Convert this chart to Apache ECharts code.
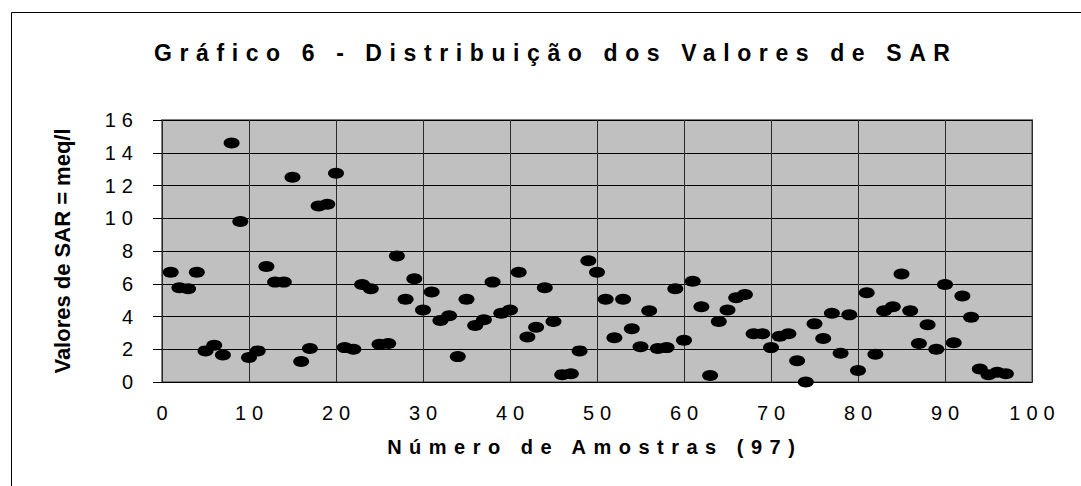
<!DOCTYPE html>
<html>
<head>
<meta charset="utf-8">
<script src="https://cdn.jsdelivr.net/npm/echarts@6/dist/echarts.min.js"></script>
<style>
  html, body { margin: 0; padding: 0; background: #ffffff; }
  #chart { width: 1081px; height: 486px; }
</style>
</head>
<body>
<div id="chart"></div>
<script>
// ---- Data ----
const chartTitle = 'Gráfico 6 - Distribuição dos Valores de SAR';
const xAxisName = 'Número de Amostras (97)';
const yAxisName = 'Valores de SAR = meq/l';
const xTicks = [0, 10, 20, 30, 40, 50, 60, 70, 80, 90, 100];
const yTicks = [0, 2, 4, 6, 8, 10, 12, 14, 16];
// SAR value of samples 1..97 (in order)
const sarValues = [
  6.7, 5.75, 5.7, 6.7, 1.9, 2.25, 1.65, 14.6, 9.8, 1.5,
  1.9, 7.05, 6.1, 6.1, 12.5, 1.25, 2.05, 10.75, 10.85, 12.75,
  2.1, 2.0, 5.95, 5.7, 2.3, 2.35, 7.7, 5.05, 6.3, 4.4,
  5.5, 3.75, 4.05, 1.55, 5.05, 3.45, 3.8, 6.1, 4.2, 4.4,
  6.7, 2.75, 3.35, 5.75, 3.7, 0.45, 0.5, 1.9, 7.4, 6.7,
  5.05, 2.7, 5.05, 3.25, 2.15, 4.35, 2.05, 2.1, 5.7, 2.55,
  6.15, 4.6, 0.4, 3.7, 4.4, 5.15, 5.35, 2.95, 2.95, 2.1,
  2.8, 2.95, 1.3, 0.0, 3.55, 2.65, 4.2, 1.75, 4.1, 0.7,
  5.45, 1.7, 4.35, 4.6, 6.6, 4.35, 2.35, 3.5, 2.0, 5.95,
  2.4, 5.25, 3.95, 0.8, 0.45, 0.6, 0.5
];

const points = sarValues.map((v, i) => [i + 1, v]);

const FONT = "'Liberation Sans', Arial, sans-serif";
// letter spacing (px) applied to the rendered texts
const spacing = {};
spacing[chartTitle] = 7.6;
spacing[xAxisName] = 7.5;
xTicks.forEach(t => { spacing[String(t)] = 6; });
yTicks.forEach(t => { spacing[String(t)] = 6; });

const chart = echarts.init(document.getElementById('chart'), null, { renderer: 'svg' });

const option = {
  animation: false,
  backgroundColor: '#ffffff',
  graphic: [{
    type: 'rect',
    shape: { x: 11.5, y: 12.5, width: 1200, height: 600 },
    style: { fill: 'none', stroke: '#000000', lineWidth: 1 },
    silent: true,
    z: -1
  }],
  title: {
    text: chartTitle,
    left: 547,
    top: 36,
    textAlign: 'center',
    textStyle: { fontFamily: FONT, fontSize: 23, fontWeight: 'bold', color: '#000000' }
  },
  grid: {
    left: 162, top: 120, width: 870, height: 262,
    show: true,
    backgroundColor: '#C0C0C0',
    borderColor: '#808080',
    borderWidth: 2
  },
  xAxis: {
    type: 'value',
    min: 0, max: 100, interval: 10,
    name: xAxisName,
    nameLocation: 'middle',
    nameGap: 65,
    nameTextStyle: { fontFamily: FONT, fontSize: 20, fontWeight: 'bold', color: '#000000', verticalAlign: 'middle', padding: [0, 12, 0, 0] },
    axisLine: { show: true, lineStyle: { color: '#000000', width: 1 } },
    axisTick: { show: false },
    axisLabel: { fontFamily: FONT, fontSize: 20, color: '#000000', margin: 21,
      formatter: v => String(v) },
    splitLine: { show: true, lineStyle: { color: '#2a2a2a', width: 1 } }
  },
  yAxis: {
    type: 'value',
    min: 0, max: 16, interval: 2,
    name: yAxisName,
    nameLocation: 'middle',
    nameGap: 100,
    nameTextStyle: { fontFamily: FONT, fontSize: 22, fontWeight: 'bold', color: '#000000', verticalAlign: 'middle' },
    axisLine: { show: false },
    axisTick: { show: true, length: 9, lineStyle: { color: '#000000', width: 1 } },
    axisLabel: { fontFamily: FONT, fontSize: 20, color: '#000000', margin: 29,
      formatter: v => String(v) },
    splitLine: { show: true, lineStyle: { color: '#000000', width: 1 } }
  },
  series: [{
    type: 'scatter',
    data: points,
    symbol: 'circle',
    symbolSize: [16, 11],
    itemStyle: { color: '#000000', opacity: 1 },
    z: 5
  }]
};

function applySpacing() {
  const texts = document.querySelectorAll('#chart svg text');
  texts.forEach(t => {
    const s = spacing[t.textContent];
    if (s) {
      t.style.letterSpacing = s + 'px';
      const anchor = t.getAttribute('text-anchor');
      if (anchor === 'middle') t.setAttribute('dx', String(s / 2));
      else if (anchor === 'end') t.setAttribute('dx', String(s));
    }
  });
}

chart.on('finished', applySpacing);
chart.setOption(option);
applySpacing();
setTimeout(applySpacing, 50);
</script>
</body>
</html>
